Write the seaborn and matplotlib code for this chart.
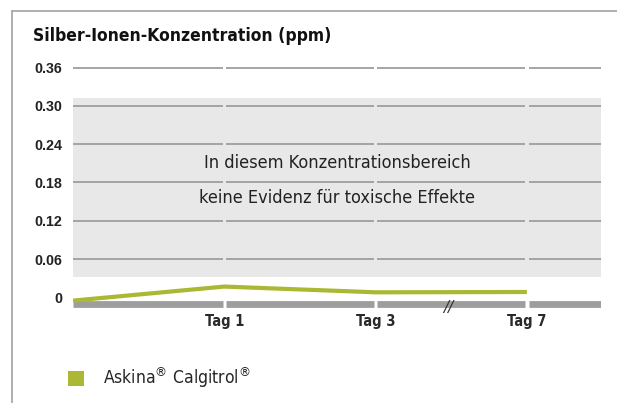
import matplotlib
matplotlib.use("Agg")
import matplotlib.pyplot as plt
import seaborn as sns
import pandas as pd
from matplotlib.lines import Line2D
from matplotlib.patches import Patch
from matplotlib import font_manager as fm

# ---- data ----
days = ["Start", "Tag 1", "Tag 3", "Tag 7"]
day_pos = [0, 1, 2, 3]
values = [-0.005, 0.017, 0.008, 0.0085]
y_ticks = [0.0, 0.06, 0.12, 0.18, 0.24, 0.30, 0.36]
y_tick_labels = ["0", "0.06", "0.12", "0.18", "0.24", "0.30", "0.36"]
x_ticks = [1, 2, 3]
x_tick_labels = ["Tag 1", "Tag 3", "Tag 7"]
band_range = [0.032, 0.312]
series_name = "Askina$^{\u00ae}$ Calgitrol$^{\u00ae}$"

sns.set_theme(style="white")
plt.rcParams["font.family"] = ["DejaVu Sans"]
plt.rcParams["mathtext.fontset"] = "dejavusans"

names = {f.name for f in fm.fontManager.ttflist}
has_cond = any("Condensed" in f.fname for f in fm.fontManager.ttflist)
NARROW = "Liberation Sans Narrow" if "Liberation Sans Narrow" in names else "DejaVu Sans"
STRETCH = "normal" if NARROW != "DejaVu Sans" else ("condensed" if has_cond else "normal")

df = pd.DataFrame({"pos": day_pos, "day": days, "value": values})

GRID = "#9e9e9e"
GREEN = "#abb834"
BAND = "#e8e8e8"

fig = plt.figure(figsize=(6.17, 4.03), dpi=100)
ax = fig.add_axes([73 / 617, 0.2303, 528 / 617, 0.6179])

x_right = 3.49
ax.set_xlim(0, x_right)
ax.set_ylim(-0.02, 0.37)

ax.axhspan(band_range[0], band_range[1], color=BAND, zorder=0, lw=0)

gap = 0.011
bounds = [0] + x_ticks + [x_right]
seg_start = [bounds[0]] + [b + gap for b in bounds[1:-1]]
seg_end = [b - gap for b in bounds[1:-1]] + [bounds[-1]]
for yv in y_ticks[1:]:
    ax.hlines([yv] * len(seg_start), seg_start, seg_end, colors=GRID, lw=1.3, zorder=1)
ax.hlines([-0.0108] * len(seg_start), seg_start, seg_end, colors=GRID, lw=4.9, zorder=1)

sns.lineplot(data=df, x="pos", y="value", ax=ax, color=GREEN, lw=3.0, zorder=3,
             legend=False)
for l in ax.lines:
    l.set_solid_capstyle("butt")

ax.set_yticks(y_ticks)
ax.set_yticklabels(y_tick_labels, fontsize=10.3, fontweight="bold", color="#222222",
                   family="Liberation Sans")
ax.set_xticks(x_ticks)
ax.set_xticklabels(x_tick_labels, fontsize=10.5, fontweight="bold", color="#2a2a2a",
                   family=NARROW, fontstretch=STRETCH)
ax.tick_params(axis="both", length=0)
ax.tick_params(axis="y", pad=8)
ax.tick_params(axis="x", pad=2.5)
for lab in ax.get_yticklabels():
    if lab.get_text() == "0":
        lab.set_y(0.003)
ax.set_xlabel("")
ax.set_ylabel("")
for s in ax.spines.values():
    s.set_visible(False)

xc = x_right / 2
ax.text(xc, 0.2025, "In diesem Konzentrationsbereich", ha="center", va="baseline",
        fontsize=13, color="#222222", family=NARROW, fontstretch=STRETCH)
ax.text(xc, 0.1486, "keine Evidenz f\u00fcr toxische Effekte", ha="center", va="baseline",
        fontsize=13, color="#222222", family=NARROW, fontstretch=STRETCH)

ax.text(2.48, -0.016, "//", ha="center", va="center", fontsize=11,
        color="#333333", style="italic", family=NARROW)

fig.text(33 / 617, 1 - 36 / 403, "Silber-Ionen-Konzentration (ppm)", ha="left",
         va="center", fontsize=12.5, fontweight="bold", color="#111111", family=NARROW,
         fontstretch=STRETCH)

fx = 12 / 617
fy = 1 - 11 / 403
fig.add_artist(Line2D([fx, 1], [fy, fy], color="#a8a8a8", lw=1.3, transform=fig.transFigure))
fig.add_artist(Line2D([fx, fx], [0, fy], color="#a8a8a8", lw=1.3, transform=fig.transFigure))

handle = Patch(facecolor=GREEN, edgecolor="none")
fig.legend([handle], [series_name], loc="center left",
           bbox_to_anchor=(68 / 617, 1 - 378 / 403), frameon=False,
           handlelength=0.95, handleheight=0.95, handletextpad=1.05,
           borderpad=0, borderaxespad=0,
           prop=fm.FontProperties(family=NARROW, stretch=STRETCH, size=12.5))

fig.savefig("out.png", dpi=100)
